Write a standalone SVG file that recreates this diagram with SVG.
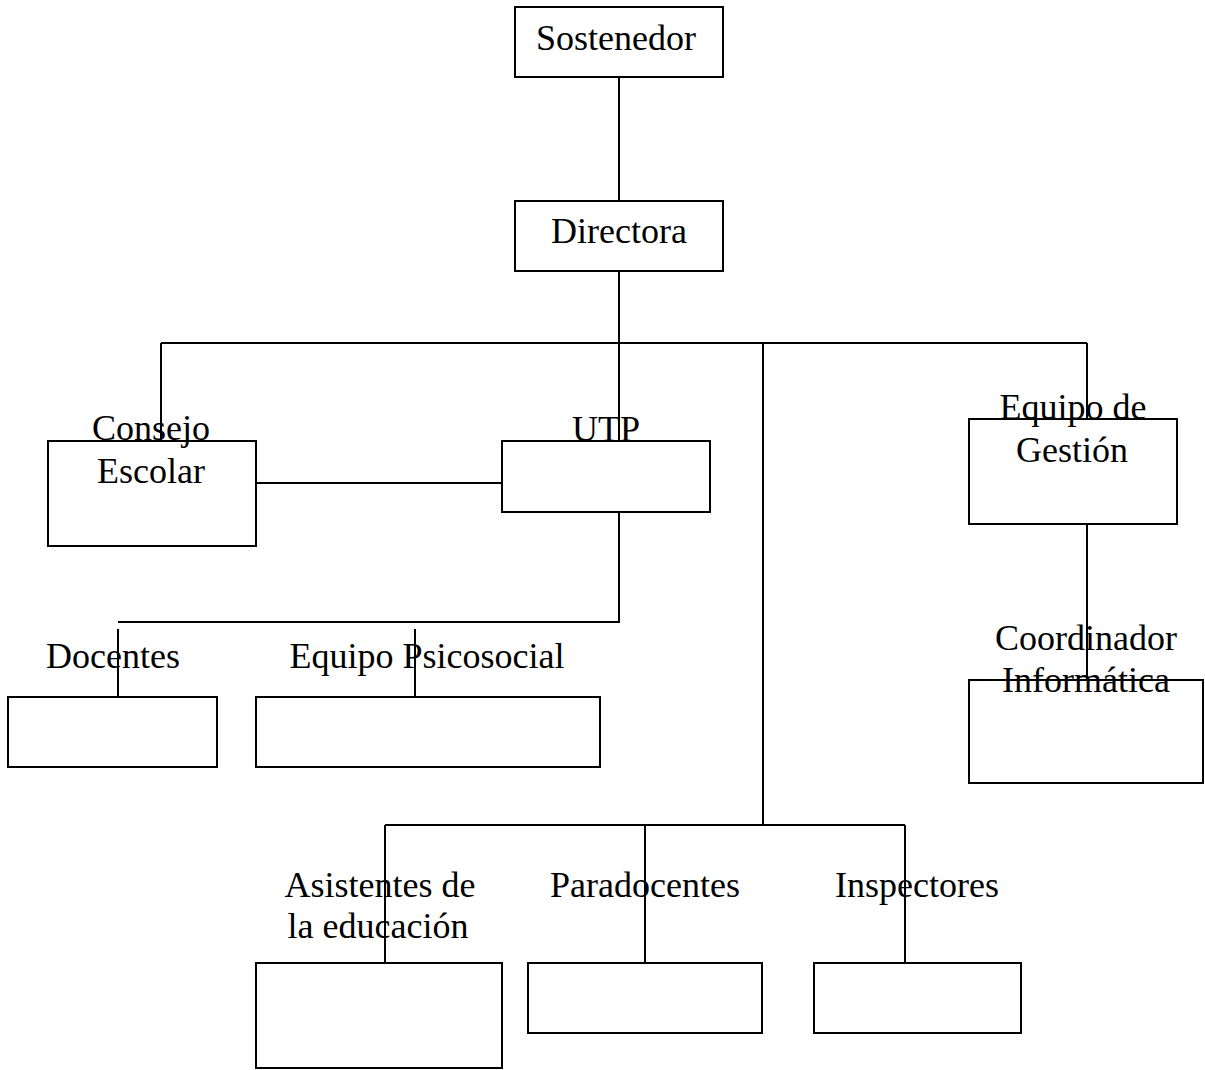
<svg xmlns="http://www.w3.org/2000/svg" width="1205" height="1070" viewBox="0 0 1205 1070">
<style>
.box{fill:none;stroke:#000;stroke-width:2}
.ln{fill:none;stroke:#000;stroke-width:2}
text{font-family:"Liberation Serif","Times New Roman",serif;font-size:36px;fill:#000;text-anchor:middle}
</style>
<rect width="1205" height="1070" fill="#fff"/>
<g id="connectors">
<path class="ln" d="M619 77V201"/>
<path class="ln" d="M619 271V441"/>
<path class="ln" d="M161 343H1087"/>
<path class="ln" d="M161 343V441"/>
<path class="ln" d="M1087 343V419"/>
<path class="ln" d="M763 343V825"/>
<path class="ln" d="M256 483H502"/>
<path class="ln" d="M619 512V622H118"/>
<path class="ln" d="M118 629V697"/>
<path class="ln" d="M415 629V697"/>
<path class="ln" d="M1087 524V680"/>
<path class="ln" d="M385 825H905"/>
<path class="ln" d="M385 825V963"/>
<path class="ln" d="M645 825V963"/>
<path class="ln" d="M905 825V963"/>
</g>
<g id="sostenedor"><rect class="box" x="515" y="7" width="208" height="70"/><text x="616" y="50">Sostenedor</text></g>
<g id="directora"><rect class="box" x="515" y="201" width="208" height="70"/><text x="619" y="243">Directora</text></g>
<g id="consejo"><rect class="box" x="48" y="441" width="208" height="105"/><text x="151" y="440">Consejo</text><text x="151" y="483">Escolar</text></g>
<g id="utp"><rect class="box" x="502" y="441" width="208" height="71"/><text x="606" y="441">UTP</text></g>
<g id="gestion"><rect class="box" x="969" y="419" width="208" height="105"/><text x="1073" y="419">Equipo de</text><text x="1072" y="462">Gestión</text></g>
<g id="docentes"><rect class="box" x="8" y="697" width="209" height="70"/><text x="113" y="668">Docentes</text></g>
<g id="psicosocial"><rect class="box" x="256" y="697" width="344" height="70"/><text x="427" y="668">Equipo Psicosocial</text></g>
<g id="coordinador"><rect class="box" x="969" y="680" width="234" height="103"/><text x="1086" y="650">Coordinador</text><text x="1086" y="692">Informática</text></g>
<g id="asistentes"><rect class="box" x="256" y="963" width="246" height="105"/><text x="380" y="897">Asistentes de</text><text x="378" y="938">la educación</text></g>
<g id="paradocentes"><rect class="box" x="528" y="963" width="234" height="70"/><text x="645" y="897">Paradocentes</text></g>
<g id="inspectores"><rect class="box" x="814" y="963" width="207" height="70"/><text x="917" y="897">Inspectores</text></g>
</svg>
